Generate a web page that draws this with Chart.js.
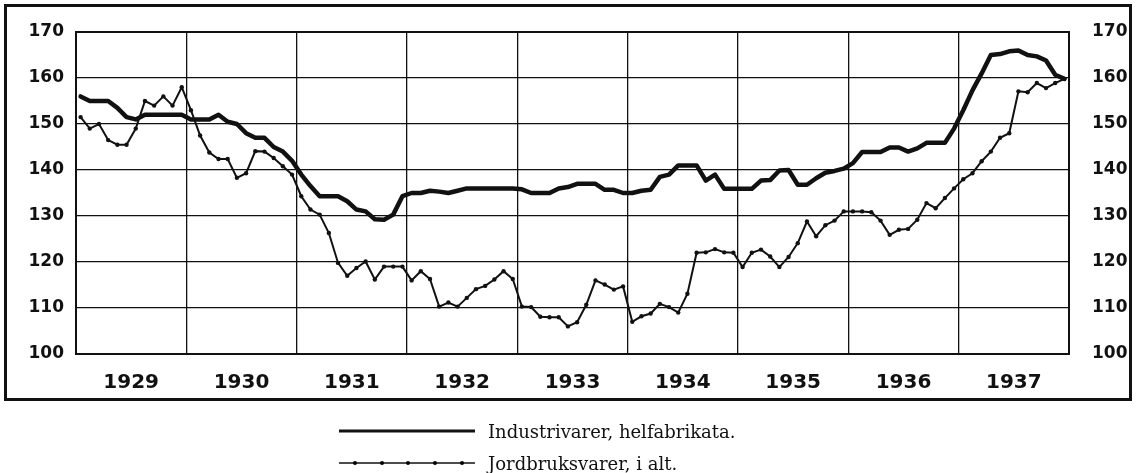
<!DOCTYPE html>
<html><head><meta charset="utf-8">
<script src="https://cdn.jsdelivr.net/npm/chart.js@4"></script>
<style>
html,body{margin:0;padding:0;background:#fff;}
#wrap{position:relative;width:1136px;height:473px;overflow:hidden;}
#c{position:absolute;left:0;top:0;}
#legend{position:absolute;left:339px;top:415px;font-family:"DejaVu Serif";font-size:18px;color:#111;}
.row{display:flex;align-items:center;height:32px;white-space:nowrap;}
.row svg{margin-right:13px;flex:none;}
</style></head>
<body><div id="wrap"><canvas id="c" width="1136" height="473" style="width:1136px;height:473px"></canvas>
<div id="legend">
<div class="row"><svg width="136" height="10"><line x1="0" y1="5" x2="136" y2="5" stroke="#111" stroke-width="3"/></svg><span>Industrivarer, helfabrikata.</span></div>
<div class="row"><svg width="136" height="10"><line x1="0" y1="5" x2="136" y2="5" stroke="#111" stroke-width="1.5"/><circle cx="16" cy="5" r="2"/><circle cx="43" cy="5" r="2"/><circle cx="69" cy="5" r="2"/><circle cx="96" cy="5" r="2"/><circle cx="123" cy="5" r="2"/></svg><span>Jordbruksvarer, i alt.</span></div>
</div></div>
<script>
const years = ['1929','1930','1931','1932','1933','1934','1935','1936','1937'];
const yTicks = [100,110,120,130,140,150,160,170];
// Industrivarer, helfabrikata (monthly, Jan 1929 - Dec 1937)
const industrivarer = [
  156,155,155,155,153.5,151.5,151,152,152,152,152,152,
  151,151,151,152,150.5,150,148,147,147,145,144,142,
  139,136.5,134.3,134.3,134.3,133.2,131.4,131,129.3,129.2,130.3,134.3,
  135,135,135.5,135.3,135,135.5,136,136,136,136,136,136,
  135.8,135,135,135,136,136.3,137,137,137,135.7,135.7,135,
  135,135.5,135.7,138.5,139,141,141,141,137.7,139,135.9,135.9,
  135.9,135.9,137.7,137.8,139.9,140,136.8,136.8,138.2,139.4,139.8,140.3,
  141.5,143.9,143.9,143.9,144.9,144.9,144,144.7,145.9,145.9,145.9,149,
  153,157.3,161,165,165.2,165.8,166,165,164.7,163.8,160.7,159.8
];
// Jordbruksvarer, i alt
const jordbruksvarer = [
  151.5,149,150,146.5,145.5,145.5,149,155,154,156,154,158,
  153,147.5,143.8,142.4,142.4,138.3,139.3,144.1,144,142.6,140.8,139,
  134.3,131.4,130.3,126.3,119.8,117,118.7,120.1,116.2,119,119,119,
  116,118,116.3,110.3,111.2,110.3,112.2,114.1,114.8,116.2,118,116.3,
  110.3,110.2,108.1,108,108,106,106.9,110.7,116,115.1,114,114.7,
  107,108.2,108.8,110.9,110.2,109,113.1,122,122.1,122.8,122.1,122,
  118.9,122,122.7,121.2,118.9,121.1,124.1,128.8,125.6,128,129,131,
  131,131,130.8,129,125.9,127,127.2,129.2,132.8,131.7,133.9,136,
  138,139.3,141.9,144,147,148,157.1,156.9,158.9,157.8,158.9,159.8
];
const toPts = arr => arr.map((v,i)=>({x:i+0.5,y:v}));
const ink = '#111';
const framePlugin = {
  id:'frame',
  beforeDraw(chart){const c=chart.ctx;c.save();c.fillStyle='#fff';c.fillRect(0,0,chart.width,chart.height);c.restore();},
  afterDraw(chart){const c=chart.ctx;c.save();c.strokeStyle=ink;c.lineWidth=3;c.strokeRect(5.5,5.5,1125,394);
    const a=chart.chartArea;c.lineWidth=2;c.strokeRect(a.left,a.top,a.right-a.left,a.bottom-a.top);c.restore();}
};
const yAxisCommon = {
  type:'linear',min:100,max:170,
  afterBuildTicks(s){s.ticks=yTicks.map(v=>({value:v}));},
  ticks:{color:ink,font:{family:'DejaVu Sans',weight:'bold',size:17}},
  border:{display:false}
};
new Chart(document.getElementById('c'),{
  type:'line',
  data:{datasets:[
    {label:'Industrivarer, helfabrikata.',data:toPts(industrivarer),borderColor:ink,borderWidth:4.5,pointRadius:0,tension:0,borderJoinStyle:'round',borderCapStyle:'round',yAxisID:'y'},
    {label:'Jordbruksvarer, i alt.',data:toPts(jordbruksvarer),borderColor:ink,borderWidth:2,pointRadius:2.2,pointBackgroundColor:ink,pointBorderWidth:0,tension:0,yAxisID:'y'}
  ]},
  options:{
    responsive:false,animation:false,
    layout:{padding:{top:32,left:0,right:0,bottom:0}},
    plugins:{legend:{display:false},tooltip:{enabled:false}},
    scales:{
      x:{type:'linear',min:0,max:108,
        afterBuildTicks(s){const t=[];for(let v=0;v<=108;v+=6)t.push({value:v});s.ticks=t;},
        afterFit(s){s.height=119;},
        ticks:{autoSkip:false,maxRotation:0,padding:17,color:ink,font:{family:'DejaVu Sans',weight:'bold',size:20},
          callback:v=>(v%12===6)?years[(v-6)/12]:''},
        grid:{drawTicks:false,lineWidth:1.3,color:ctx=>(ctx.tick&&ctx.tick.value%12===0)?ink:'rgba(0,0,0,0)'},
        border:{display:false}
      },
      y:Object.assign({},yAxisCommon,{position:'left',
        afterFit(s){s.width=76;},
        ticks:Object.assign({},yAxisCommon.ticks,{padding:12}),
        grid:{drawTicks:false,lineWidth:1.3,color:ink}}),
      y2:Object.assign({},yAxisCommon,{position:'right',
        afterFit(s){s.width=67;},
        ticks:Object.assign({},yAxisCommon.ticks,{padding:15}),
        grid:{display:false}})
    }
  },
  plugins:[framePlugin]
});
</script></body></html>
